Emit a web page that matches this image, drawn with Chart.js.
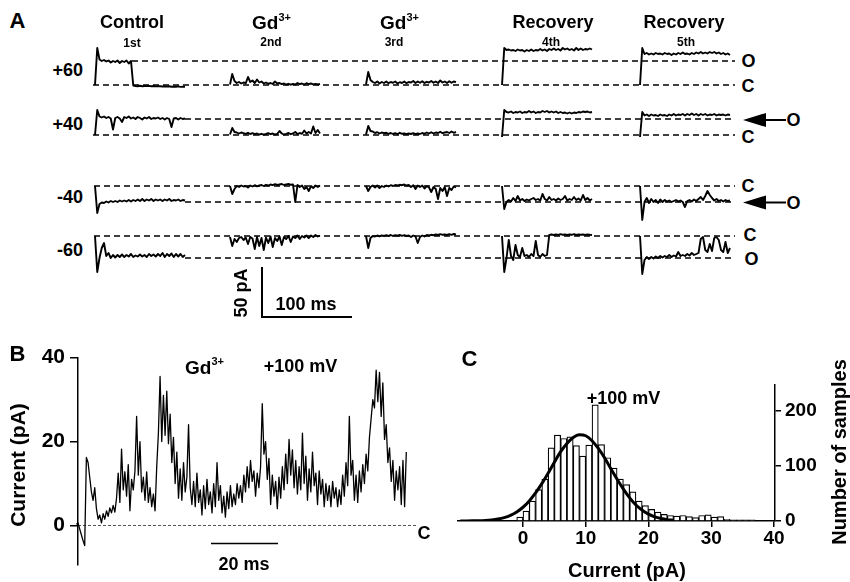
<!DOCTYPE html>
<html><head><meta charset="utf-8">
<script src="https://cdn.jsdelivr.net/npm/chart.js@4.4.1/dist/chart.umd.min.js"></script>
<style>
html,body{margin:0;padding:0;background:#fff;overflow:hidden;width:850px;height:582px;}
#wrap{position:relative;width:850px;height:582px;overflow:hidden;background:#fff;}
canvas{position:absolute;}
.t{position:absolute;font-family:"Liberation Sans",Arial,Helvetica,sans-serif;font-weight:bold;color:#000;line-height:1;white-space:nowrap;}
</style></head><body><div id="wrap">
<canvas id="cA" width="650" height="295" style="left:90px;top:30px"></canvas>
<canvas id="cB" width="440" height="242" style="left:0px;top:340px"></canvas>
<canvas id="cC" width="410" height="242" style="left:440px;top:340px"></canvas>
</div>
<script>
// ---------------- DATA ----------------
// Panel A: single-channel sweeps (pA, relative to closed level), one sample every 2.5 ms
const sweepStepMs = 2.5;
const sweepTitles = ['Control', 'Gd<span class="sup">3+</span>', 'Gd<span class="sup">3+</span>', 'Recovery', 'Recovery'];
const sweepOrder = ['1st', '2nd', '3rd', '4th', '5th'];
const holdingLabels = ['+60', '+40', '-40', '-60'];
const openLevels = [24, 16, -16, -22];   // open-channel current (pA) per holding potential

const p60_control = [0, 37, 25.5, 24, 25, 23.5, 24.5, 22.5, 24, 23, 24.5, 22, 24, 23, 24.5, 21.5, 24, -0.5, -1, -1.2, -0.8, -1.3, -1, -1.1, -0.9, -1.2, -1, -1.4, -1.1, -1.3, -1.5, -1.2, -1.6, -1.3, -1.8, -1.5, -1.7, -1.4, -1.9, -1.6, -1.8];
const p60_gd2 = [0.5, 11, 4, 2, 3, 1.5, 2.5, 1.8, 8, 3, 4.5, 2, 5.5, 2.5, 3.5, 1.5, 2.5, 1.2, 2, 1, 3.5, 1.5, 2, 0.8, 1.5, 0.5, 1.2, 0.3, 1, 0.5, 2, 0.8, 1.5, 0.5, 1.8, 0.8, 1.5, 0.6, 1.2, 0.5, 1.0];
const p60_gd3 = [0.5, 13, 5, 3, 2, 3.5, 1.5, 3, 2, 3.5, 1.8, 3, 2.2, 3.5, 1.5, 2.8, 2, 3.5, 1.8, 3, 2.5, 4, 2, 3.5, 2.2, 3.8, 2, 3.2, 2.5, 4, 2.3, 3.5, 2, 4.5, 2.5, 3.5, 2, 3.8, 2.2, 3.5, 2.8];
const p60_rec4 = [0, 37, 35, 35.5, 34.5, 35, 34, 35.5, 34.5, 35, 33.5, 35, 34, 35.5, 34, 35, 34.5, 36, 34.5, 35.5, 34, 36, 35, 36.5, 35, 36, 34.5, 37, 35.5, 36.5, 35, 36, 34.5, 37, 35, 36.5, 35, 36, 35.5, 36.5, 35.5];
const p60_rec5 = [0, 37, 31, 32, 30.5, 31.5, 30.5, 32, 31, 31.5, 30.5, 32, 31, 31.5, 30, 31.5, 30.5, 32, 31, 32.5, 31, 31.5, 30.5, 32, 31, 32.5, 31.5, 33, 31.5, 32.5, 31.5, 33, 32, 33, 31.5, 32.5, 31, 32, 30.5, 31.5, 30];

const p40_control = [0, 25, 18.5, 17.5, 18.5, 17, 18, 16.5, 5.5, 17, 18, 16.5, 13, 18, 17, 18.5, 16.5, 17.5, 16, 18, 17, 15.5, 17.5, 16.5, 18, 16, 17, 16.5, 17.5, 16, 17, 15.5, 17, 16, 8, 16.5, 17, 15.5, 17, 16, 16.5];
const p40_gd2 = [0.5, 7, 3, 2.5, 1.5, 2.5, 1.8, 1.2, 2.2, 1, 1.8, 0.8, 1.5, 0.5, 1.2, 0.3, 1, 1.8, 0.8, 1.5, 0.5, 1.2, 4, 1.5, 0.5, 1.2, 2, 0.8, 1.5, 3, 1, 2, 1.2, 4.5, 1.5, 3, 1.5, 8.5, 2, 5, 1.5];
const p40_gd3 = [0.5, 9, 4, 3.5, 2, 2.8, 1.5, 2.5, 1.8, 2.2, 1.2, 2, 1, 1.8, 0.8, 2.2, 1.2, 1.5, 0.8, 1.5, 1, 1.8, 0.8, 1.5, 1, 2, 1.2, 2.5, 1.5, 2.8, 1.5, 2.5, 2, 3.2, 1.8, 2.5, 3, 2, 3.5, 2.2, 3];
const p40_rec4 = [-2, 25, 23, 22.5, 23.5, 22, 23, 22.5, 23.5, 22, 23, 22.5, 24, 22.5, 23.5, 22, 23, 22.5, 24, 23, 24, 22.5, 23.5, 22.5, 23.5, 22, 23, 22, 22.5, 21.5, 22.5, 21.5, 22.5, 22, 23, 22.5, 23.5, 23, 23.5, 22.5, 23];
const p40_rec5 = [-2, 23, 19.5, 20.5, 19, 20.5, 19.5, 20, 19, 20.5, 19.5, 20, 19, 20.5, 19.5, 21, 19.5, 20.5, 20, 21, 19.5, 21, 20, 21.5, 20, 21, 19.5, 21, 20, 21, 19.5, 20.5, 20, 21, 19.5, 20.5, 20, 20.5, 19.5, 20.5, 20];

const m40_control = [0, -27, -18, -16.5, -17, -15.5, -16.5, -15, -16, -15, -16, -14.5, -15.5, -14.5, -15.5, -14, -15.5, -14, -15, -13.5, -15, -13, -15, -13.5, -14.5, -13, -15, -13.5, -14.5, -13.5, -15, -13.5, -14.5, -13, -15, -14, -14.5, -13.5, -15, -14, -14.5];
const m40_gd2 = [0, -8, -3, 0, -1, 0.5, -0.5, 0, -1.5, 0.5, -0.5, 0.8, -0.3, 0.5, 1, 0, 1.2, 0.5, 1.5, 0.8, 1.8, 1, 1.5, 2, 1, 1.5, 2, 1.2, 1.5, -16, 1, -1, 0.5, -3, -1, -5, 0, -2, 0.5, -1, 0.5];
const m40_gd3 = [0, -5, -1, 0.5, -1.5, 0.5, -2, 0, -1, 0.5, -0.5, 0.8, 0, 1, 0.5, 1.2, 0.8, 1.5, 0.5, 1, -1, 0.8, -3, 0.5, -1, 0.5, -2.5, 0, -1.5, -6, -1, -3, -13, -2, -5, -1, -10, -2, -4, -0.5, -1.5];
const m40_rec4 = [0, -23, -16, -14, -15.5, -12, -15, -10, -14.5, -13, -15, -13.5, -14.5, -13, -12, -14, -13, -14.5, -8, -13, -14.5, -11, -14, -13, -14.5, -12.5, -14, -13, -10, -14.5, -13, -14, -11, -14, -12.5, -14.5, -9, -14, -12, -14.5, -13];
const m40_rec5 = [0, -34, -16, -12, -17, -13, -16, -14, -17, -13.5, -16, -14, -15.5, -14.5, -16, -15, -14, -15.5, -14.5, -16, -21, -15, -14, -15.5, -13.5, -15, -13, -11, -14, -10, -5, -9, -12, -14.5, -13, -15, -14, -15.5, -14, -15, -14.5];

const m60_control = [0, -36, -22, -12, -7, -20, -17, -22, -19, -21.5, -19, -21, -18.5, -21, -19, -20.5, -18, -21, -19.5, -20.5, -18.5, -20.5, -19, -21, -18, -20, -18.5, -20.5, -18, -20, -17, -21, -18, -20, -17.5, -21, -18, -20.5, -18, -21, -19];
const m60_gd2 = [-1, -10, -3, -6, -2, -1, -4, -1.5, -8, -1, -2.5, -13, -1, -10, -2, -14, -1.5, -7, -0.5, -11, -2, -5, -0.5, -9, -1, -3, 0, -6, -0.5, -2, 0.5, -3, 0, -1.5, 0.5, -2, 0.5, -1, 1, -0.5, 0.5];
const m60_gd3 = [0, -12, -2, 0, -0.5, 0.5, -0.3, 0.5, 0, 0.8, 0.2, 1, 0, 0.8, 0.3, 1, 0.2, 0.8, 0, 0.5, -1, 0.5, -0.5, -7, -1, 0.5, -0.5, 1, 0.5, 1.2, 0.8, 1.5, 1, 1.8, 1.2, 1.5, 1, 1.8, 1.2, 2, 1.5];
const m60_rec4 = [0, -36, -22, -4, -20, -24, -9, -19, -21, -12, -20, -19, -21, -18, -20, -5, -19, -21, -18, -20, -19, 1, 1.5, 1, 1.5, 1, 1.8, 1.2, 1.5, 1, 1.5, 1.2, 1.8, 1, 1.5, 1.2, 1.5, 1, 1.5, 1.2, 1];
const m60_rec5 = [0, -38, -24, -21, -23, -21, -22.5, -20.5, -22, -20, -21.5, -20, -21, -19, -21, -19.5, -20.5, -16, -20, -19, -20, -18, -19.5, -17, -19, -18, -17, -3, -1, -14, -16, -8, -15, -2, -1, -4, -14, -16, -6, -17, -12];

const scaleBarPA = 50, scaleBarMs = 100;

// Panel B: Gd3+ trace at +100 mV (pA), one sample every 0.5 ms, first sample at -1.5 ms
const traceStepMs = 0.5;
const traceStartMs = -1.5;
const gdTrace100 = [0.5, 1.0, 0.3, 0.6, -0.8, -2.2, -3.6, -4.8, 16.2, 15.0, 11.5, 8.0, 6.0, 9.0, 4.0, 1.5, 2.5, 0.6, 2.8, 1.5, 3.5, 2.2, 4.2, 3.0, 4.8, 3.2, 6.5, 12.5, 5.5, 18.2, 8.5, 12.8, 7.0, 14.5, 3.5, 11.0, 8.5, 13.0, 26.0, 12.0, 20.0, 8.0, 11.5, 6.0, 12.8, 5.5, 9.0, 4.5, 7.5, 3.5, 14.0, 22.0, 35.5, 20.0, 31.0, 21.5, 32.0, 19.5, 26.5, 15.0, 21.0, 10.0, 17.5, 6.5, 13.5, 6.0, 15.0, 8.0, 11.5, 24.0, 9.0, 5.0, 10.5, 4.5, 12.5, 5.5, 8.5, 2.5, 9.5, 4.0, 11.0, 5.0, 8.0, 3.0, 10.0, 4.5, 15.0, 6.0, 9.5, 3.0, 7.0, 2.0, 8.0, 4.0, 9.5, 4.5, 7.5, 5.0, 10.0, 6.5, 9.5, 5.5, 12.0, 8.0, 14.0, 9.0, 15.5, 10.5, 13.0, 7.0, 12.5, 9.0, 14.0, 29.0, 17.0, 20.0, 11.0, 16.0, 5.0, 12.0, 7.0, 10.5, 4.0, 11.5, 6.5, 14.0, 8.5, 17.0, 10.0, 20.5, 12.0, 18.0, 9.0, 15.5, 7.5, 14.0, 8.5, 22.0, 10.0, 16.5, 6.0, 13.5, 8.0, 17.5, 9.5, 12.5, 5.0, 13.0, 7.5, 11.0, 4.5, 10.0, 6.0, 9.5, 4.5, 10.5, 6.5, 9.0, 4.5, 8.5, 5.0, 12.0, 7.0, 15.0, 9.5, 26.0, 12.0, 15.5, 6.0, 12.0, 5.5, 13.0, 8.0, 14.5, 10.0, 17.0, 13.0, 21.0, 25.5, 30.0, 28.0, 37.0, 29.5, 36.5, 26.0, 34.0, 20.5, 24.0, 15.0, 18.5, 10.5, 15.5, 6.0, 13.0, 8.5, 14.0, 5.0, 15.5, 4.5, 17.5];
const yTicksB = [0, 20, 40];
const scaleBarB_Ms = 20;

// Panel C: amplitude histogram (1 pA bins starting at -1 pA) and Gaussian fit
const histFirstBin = -1;
const histCounts = [7, 18, 36, 57, 76, 133, 156, 150, 153, 137, 118, 138, 211, 139, 115, 96, 76, 66, 53, 36, 28, 21, 16, 12, 10, 9, 10, 8, 6, 10, 11, 7, 8, 3, 2, 2, 2, 2];
const fitFirstX = -10;
const fitCurve = [0.05, 0.12, 0.26, 0.53, 1.05, 1.97, 3.6, 6.2, 10.3, 16.4, 25, 36.5, 51, 68, 87, 107, 126, 141, 152, 157, 155, 146, 132, 115, 95, 76, 58, 42, 29, 19.6, 12.5, 7.6, 4.5, 2.5, 1.4];
const xTicksC = [0, 10, 20, 30, 40];
const yTicksC = [0, 100, 200];

// ---------------- LAYOUT HELPERS ----------------
const FONT = '"Liberation Sans", Arial, Helvetica, sans-serif';
const wrap = document.getElementById('wrap');
function txt(html, x, y, size, anchor, rot) {
  const d = document.createElement('div');
  d.className = 't';
  d.innerHTML = html;
  d.style.fontSize = size + 'px';
  d.style.left = x + 'px';
  d.style.top = y + 'px';
  const tx = anchor === 'r' ? '-100%' : anchor === 'l' ? '0' : '-50%';
  d.style.transform = 'translate(' + tx + ',-50%)' + (rot ? ' rotate(' + rot + 'deg)' : '');
  wrap.appendChild(d);
  return d;
}
const style = document.createElement('style');
style.textContent = '.sup{position:relative;top:-8px;font-size:11px;}';
document.head.appendChild(style);

Chart.defaults.font.family = FONT;
Chart.defaults.color = '#000';
const common = {
  responsive: false, animation: false, events: [],
  plugins: { legend: { display: false }, tooltip: { enabled: false } }
};
const line = (data, extra) => Object.assign({
  data, borderColor: '#000', borderWidth: 1.4, pointRadius: 0, tension: 0,
  fill: false, borderJoinStyle: 'round', clip: false
}, extra || {});

// ---------------- PANEL A ----------------
const A_LEFT = 90, A_TOP = 30, A_W = 650, A_H = 295;
const PX_PER_MS_A = 0.9, PX_PER_PA_A = 1;
const pxToMsA = px => (px - A_LEFT) / PX_PER_MS_A;
const colStartPx = [95, 230, 366, 502, 640];
const rowClosedPx = [85, 135, 186, 236];
const cLineStartPx = [93, 93, 94, 94];
const oLineStartPx = [132, 185, 185, 185];
const dashEndPx = 735;
const rowAxes = ['y60', 'y40', 'ym40', 'ym60'];
const tracesA = [
  [p60_control, p60_gd2, p60_gd3, p60_rec4, p60_rec5],
  [p40_control, p40_gd2, p40_gd3, p40_rec4, p40_rec5],
  [m40_control, m40_gd2, m40_gd3, m40_rec4, m40_rec5],
  [m60_control, m60_gd2, m60_gd3, m60_rec4, m60_rec5]
];
const scalesA = { x: { type: 'linear', display: false, min: 0, max: A_W / PX_PER_MS_A } };
rowAxes.forEach((id, r) => {
  scalesA[id] = { type: 'linear', display: false,
    min: -(A_TOP + A_H - rowClosedPx[r]) / PX_PER_PA_A,
    max: (rowClosedPx[r] - A_TOP) / PX_PER_PA_A };
});
const dsA = [];
tracesA.forEach((row, r) => {
  row.forEach((vals, c) => {
    dsA.push(line(vals.map((v, i) => ({ x: pxToMsA(colStartPx[c]) + i * sweepStepMs, y: v })),
      { yAxisID: rowAxes[r], borderWidth: 1.9 }));
  });
  dsA.push(line([{ x: pxToMsA(cLineStartPx[r]), y: 0 }, { x: pxToMsA(dashEndPx), y: 0 }],
    { yAxisID: rowAxes[r], borderDash: [6, 4], borderWidth: 1.3 }));
  dsA.push(line([{ x: pxToMsA(oLineStartPx[r]), y: openLevels[r] }, { x: pxToMsA(dashEndPx), y: openLevels[r] }],
    { yAxisID: rowAxes[r], borderDash: [6, 4], borderWidth: 1.3 }));
});
// scale bar (50 pA / 100 ms) on the -60 row axis
const sbCornerMs = pxToMsA(262), sbCornerPA = -(317 - rowClosedPx[3]);
dsA.push(line([
  { x: sbCornerMs, y: sbCornerPA + scaleBarPA },
  { x: sbCornerMs, y: sbCornerPA },
  { x: sbCornerMs + scaleBarMs, y: sbCornerPA }
], { yAxisID: 'ym60', borderWidth: 2, borderJoinStyle: 'miter' }));

new Chart(document.getElementById('cA'), {
  type: 'line', data: { datasets: dsA },
  options: Object.assign({}, common, { layout: { padding: 0 }, scales: scalesA })
});

// Panel A texts
txt('A', 17.5, 20.5, 22, 'c');
const headX = [132, 252, 380, 553, 684];
const headAnchor = ['c', 'l', 'l', 'c', 'c'];
const subX = [132, 271, 394, 551, 686];
sweepTitles.forEach((t, i) => {
  txt(t, headX[i], 22, headAnchor[i] === 'l' ? 19 : 18, headAnchor[i]);
  txt(sweepOrder[i], subX[i], i === 0 ? 43 : 41.5, 12, 'c');
});
const rowLabelY = [69.5, 124, 196.5, 250];
holdingLabels.forEach((t, i) => txt(t, 83, rowLabelY[i], 18, 'r'));
txt('O', 748.5, 61, 18, 'c');
txt('C', 748, 86, 18, 'c');
txt('C', 748, 137, 18, 'c');
txt('O', 793.5, 120, 18, 'c');
txt('C', 748, 186, 18, 'c');
txt('O', 793.5, 203, 18, 'c');
txt('C', 750, 235, 18, 'c');
txt('O', 751.5, 258.5, 18, 'c');
txt('50 pA', 241, 293, 18, 'c', -90);
txt('100 ms', 306, 303.5, 18, 'c');
// arrows pointing at open level
const svgNS = 'http://www.w3.org/2000/svg';
const svg = document.createElementNS(svgNS, 'svg');
svg.setAttribute('width', 850); svg.setAttribute('height', 582);
svg.style.position = 'absolute'; svg.style.left = '0'; svg.style.top = '0';
[120, 202.5].forEach(y => {
  const p = document.createElementNS(svgNS, 'polygon');
  p.setAttribute('points', `743,${y} 766,${y - 7} 766,${y + 7}`);
  p.setAttribute('fill', '#000');
  svg.appendChild(p);
  const l = document.createElementNS(svgNS, 'line');
  l.setAttribute('x1', 765); l.setAttribute('x2', 786);
  l.setAttribute('y1', y); l.setAttribute('y2', y);
  l.setAttribute('stroke', '#000'); l.setAttribute('stroke-width', 2);
  svg.appendChild(l);
});
wrap.appendChild(svg);

// ---------------- PANEL B ----------------
const B_AXIS_X = 78;
const B_PX_PER_MS = 3.35;
const B_PLOT_RIGHT = 418;
const B_TOP = 355, B_BOTTOM = 573, B_ZERO = 532;
const B_PX_PER_PA = (B_ZERO - B_TOP) / 40;
const bScaleBarStartMs = (211 - B_AXIS_X) / B_PX_PER_MS;
const bScaleBarY = -(551 - B_ZERO) / B_PX_PER_PA;
new Chart(document.getElementById('cB'), {
  type: 'line',
  data: { datasets: [
    line(gdTrace100.map((v, i) => ({ x: traceStartMs + i * traceStepMs, y: v })), { borderWidth: 1.3 }),
    line([{ x: 0, y: 0 }, { x: (416 - B_AXIS_X) / B_PX_PER_MS, y: 0 }], { borderDash: [3, 2], borderWidth: 1, borderColor: '#555' }),
    line([{ x: bScaleBarStartMs, y: bScaleBarY }, { x: bScaleBarStartMs + scaleBarB_Ms, y: bScaleBarY }], { borderWidth: 1.6 })
  ] },
  options: Object.assign({}, common, {
    layout: { padding: { left: 0, top: B_TOP - 340, right: 440 - B_PLOT_RIGHT, bottom: 582 - B_BOTTOM } },
    scales: {
      x: { type: 'linear', display: false, min: 0, max: (B_PLOT_RIGHT - B_AXIS_X) / B_PX_PER_MS },
      y: { type: 'linear', position: 'left', min: -(B_BOTTOM - B_ZERO) / B_PX_PER_PA, max: 40,
        afterFit: s => { s.width = B_AXIS_X; },
        afterBuildTicks: s => { s.ticks = yTicksB.map(v => ({ value: v })); },
        ticks: { font: { family: FONT, weight: 'bold', size: 21 }, color: '#000', padding: 5 },
        grid: { display: true, drawOnChartArea: false, drawTicks: true, tickLength: 8, color: '#000', lineWidth: 1.5 },
        border: { display: true, color: '#000', width: 1.5 } }
    }
  })
});
txt('B', 17.5, 353.5, 22, 'c');
txt('Current (pA)', 17, 465, 21, 'c', -90);
txt('Gd<span class="sup" style="top:-9px">3+</span>', 185, 366.5, 19, 'l');
txt('+100 mV', 300.5, 366, 18, 'c');
txt('C', 424, 532.5, 18, 'c');
txt('20 ms', 244, 563.5, 18, 'c');

// ---------------- PANEL C ----------------
const C_LEFT = 458, C_RIGHT = 775, C_TOP = 385, C_BASE = 521;
const C_ZERO_X = 523, C_PX_PER_PA = 6.275, C_PX_PER_COUNT = 0.55;
new Chart(document.getElementById('cC'), {
  type: 'bar',
  data: { datasets: [
    { type: 'line', data: fitCurve.map((v, i) => ({ x: fitFirstX + i, y: v })), borderColor: '#000', borderWidth: 3,
      pointRadius: 0, tension: 0.4, cubicInterpolationMode: 'monotone', fill: false, order: 0 },
    { type: 'bar', data: histCounts.map((c, i) => ({ x: histFirstBin + i + 0.5, y: c })),
      backgroundColor: '#fff', borderColor: '#000', borderWidth: 1.2, barPercentage: 1, categoryPercentage: 1, order: 1 }
  ] },
  options: Object.assign({}, common, {
    layout: { padding: { left: C_LEFT - 440, top: C_TOP - 340, right: 0, bottom: 0 } },
    scales: {
      x: { type: 'linear', position: 'bottom', offset: false,
        min: (C_LEFT - C_ZERO_X) / C_PX_PER_PA, max: (C_RIGHT - C_ZERO_X) / C_PX_PER_PA,
        afterFit: s => { s.height = 582 - C_BASE; },
        afterBuildTicks: s => { s.ticks = xTicksC.map(v => ({ value: v })); },
        ticks: { font: { family: FONT, weight: 'bold', size: 19 }, color: '#000', padding: 0, maxRotation: 0, autoSkip: false },
        grid: { display: true, offset: false, drawOnChartArea: false, drawTicks: true, tickLength: 6, color: '#000', lineWidth: 1.5 },
        border: { display: true, color: '#000', width: 1.5 } },
      y: { type: 'linear', position: 'right', min: 0, max: (C_BASE - C_TOP) / C_PX_PER_COUNT,
        afterFit: s => { s.width = 850 - C_RIGHT; },
        afterBuildTicks: s => { s.ticks = yTicksC.map(v => ({ value: v })); },
        ticks: { font: { family: FONT, weight: 'bold', size: 19 }, color: '#000', padding: 4 },
        grid: { display: true, drawOnChartArea: false, drawTicks: true, tickLength: 6, color: '#000', lineWidth: 1.5 },
        border: { display: true, color: '#000', width: 1.5 } }
    }
  })
});
txt('C', 469.5, 358.5, 22, 'c');
txt('+100 mV', 623.5, 397.5, 18, 'c');
txt('Current (pA)', 627, 570, 20, 'c');
txt('Number of samples', 839, 452, 20, 'c', -90);
</script>
</body></html>
